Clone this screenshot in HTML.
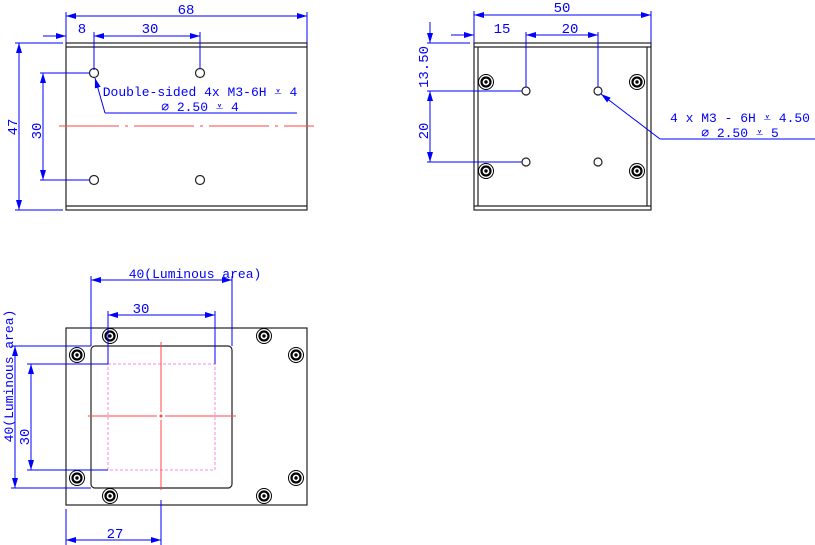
<!DOCTYPE html>
<html><head><meta charset="utf-8"><style>body{margin:0;background:#fff}svg{display:block}</style></head><body>
<svg width="815" height="545" viewBox="0 0 815 545" xmlns="http://www.w3.org/2000/svg" font-family="'Liberation Mono','DejaVu Sans Mono',monospace">
<defs>
<marker id="a" viewBox="0 0 10 6" refX="10" refY="3" markerWidth="10" markerHeight="6" orient="auto-start-reverse" markerUnits="userSpaceOnUse"><path d="M0,0L10,3L0,6z" fill="#00f"/></marker>
<g id="s"><circle r="7.5" fill="#fff" stroke="#000" stroke-width="1"/><circle r="4.5" fill="none" stroke="#000" stroke-width="2.2"/><circle r="1.7" fill="#000"/></g>
</defs>
<g fill="none" stroke="#222" stroke-width="1.2">
<rect x="66" y="43" width="241" height="167"/>
<line x1="66" y1="47" x2="307" y2="47"/><line x1="66" y1="206" x2="307" y2="206"/>
<circle cx="94" cy="73" r="4.5"/><circle cx="200" cy="73" r="4.5"/><circle cx="94" cy="180" r="4.5"/><circle cx="200" cy="180" r="4.5"/>
<rect x="474" y="43" width="177" height="167"/>
<line x1="474" y1="47" x2="651" y2="47"/><line x1="474" y1="206" x2="651" y2="206"/>
<line x1="478" y1="47" x2="478" y2="206"/><line x1="647" y1="47" x2="647" y2="206"/>
<circle cx="526" cy="91" r="4"/><circle cx="598" cy="91" r="4"/><circle cx="526" cy="162" r="4"/><circle cx="598" cy="162" r="4"/>
<rect x="66" y="328" width="241" height="177"/>
<rect x="91" y="346" width="141" height="142" rx="4"/>
</g>
<use href="#s" x="486" y="82"/><use href="#s" x="637" y="82"/><use href="#s" x="486" y="171"/><use href="#s" x="637" y="171"/>
<use href="#s" x="110" y="336"/><use href="#s" x="264" y="336"/><use href="#s" x="77" y="355"/><use href="#s" x="296" y="355"/>
<use href="#s" x="77" y="478"/><use href="#s" x="296" y="478"/><use href="#s" x="110" y="496"/><use href="#s" x="264" y="496"/>
<line x1="59" y1="126" x2="314" y2="126" stroke="#f44" stroke-width="1" stroke-dasharray="60,6,3,6"/>
<rect x="108" y="364" width="107" height="106" fill="none" stroke="#f8d" stroke-width="1" stroke-dasharray="3,2"/>
<g stroke="#f44" stroke-width="1"><line x1="161" y1="342" x2="161" y2="412"/><line x1="161" y1="420" x2="161" y2="490"/><line x1="88" y1="416" x2="157" y2="416"/><line x1="165" y1="416" x2="236" y2="416"/></g>
<circle cx="161" cy="416" r="1.5" fill="#f44"/>
<g stroke="#00f" stroke-width="1" fill="none">
<line x1="66" y1="12" x2="66" y2="43"/><line x1="307" y1="12" x2="307" y2="43"/>
<line x1="66" y1="16" x2="307" y2="16" marker-start="url(#a)" marker-end="url(#a)"/>
<line x1="94" y1="32" x2="94" y2="70"/><line x1="200" y1="32" x2="200" y2="69"/>
<line x1="43" y1="36" x2="66" y2="36" marker-end="url(#a)"/>
<line x1="94" y1="36" x2="200" y2="36" marker-start="url(#a)" marker-end="url(#a)"/>
<line x1="15" y1="43" x2="63" y2="43"/><line x1="15" y1="210" x2="63" y2="210"/>
<line x1="19" y1="43" x2="19" y2="210" marker-start="url(#a)" marker-end="url(#a)"/>
<line x1="40" y1="73" x2="90" y2="73"/><line x1="40" y1="180" x2="90" y2="180"/>
<line x1="43" y1="73" x2="43" y2="180" marker-start="url(#a)" marker-end="url(#a)"/>
<polyline points="105,113 297,113"/><line x1="105" y1="113" x2="95" y2="78" marker-end="url(#a)"/>
<line x1="474" y1="11" x2="474" y2="43"/><line x1="651" y1="11" x2="651" y2="43"/>
<line x1="474" y1="15" x2="651" y2="15" marker-start="url(#a)" marker-end="url(#a)"/>
<line x1="526" y1="32" x2="526" y2="87"/><line x1="598" y1="32" x2="598" y2="87"/>
<line x1="451" y1="35" x2="474" y2="35" marker-end="url(#a)"/>
<line x1="526" y1="35" x2="598" y2="35" marker-start="url(#a)" marker-end="url(#a)"/>
<line x1="427" y1="43" x2="470" y2="43"/><line x1="427" y1="91" x2="522" y2="91"/><line x1="427" y1="162" x2="522" y2="162"/>
<line x1="430" y1="22" x2="430" y2="43" marker-end="url(#a)"/>
<line x1="430" y1="91" x2="430" y2="162" marker-start="url(#a)" marker-end="url(#a)"/>
<line x1="660" y1="139" x2="815" y2="139"/><line x1="660" y1="139" x2="601" y2="94" marker-end="url(#a)"/>
<line x1="91" y1="276" x2="91" y2="346"/><line x1="232" y1="276" x2="232" y2="346"/>
<line x1="91" y1="280" x2="232" y2="280" marker-start="url(#a)" marker-end="url(#a)"/>
<line x1="108" y1="311" x2="108" y2="364"/><line x1="215" y1="311" x2="215" y2="364"/>
<line x1="108" y1="315" x2="215" y2="315" marker-start="url(#a)" marker-end="url(#a)"/>
<line x1="11" y1="346" x2="91" y2="346"/><line x1="11" y1="488" x2="91" y2="488"/>
<line x1="15" y1="346" x2="15" y2="488" marker-start="url(#a)" marker-end="url(#a)"/>
<line x1="27" y1="364" x2="108" y2="364"/><line x1="27" y1="470" x2="108" y2="470"/>
<line x1="31" y1="364" x2="31" y2="470" marker-start="url(#a)" marker-end="url(#a)"/>
<line x1="66" y1="509" x2="66" y2="545"/><line x1="161" y1="500" x2="161" y2="545"/>
<line x1="66" y1="540" x2="161" y2="540" marker-start="url(#a)" marker-end="url(#a)"/>
</g>
<g fill="#00f" font-size="14" text-anchor="middle">
<text x="186" y="14">68</text><text x="82" y="33">8</text><text x="150" y="33">30</text>
<text transform="translate(17,127) rotate(-90)">47</text><text transform="translate(41,131) rotate(-90)">30</text>
<text x="562" y="12">50</text><text x="502" y="33">15</text><text x="570" y="33">20</text>
<text transform="translate(428,67) rotate(-90)">13.50</text><text transform="translate(428,131) rotate(-90)">20</text>
<text x="141" y="313">30</text><text transform="translate(29,437) rotate(-90)">30</text>
<text x="115" y="538">27</text>
</g>
<g fill="#00f" font-size="13" text-anchor="middle">
<text x="200" y="96">Double-sided 4x M3-6H ⩡ 4</text><text x="200" y="111">∅ 2.50 ⩡ 4</text>
<text x="740" y="122">4 x  M3 - 6H ⩡ 4.50</text><text x="740" y="137">∅ 2.50 ⩡ 5</text>
<text x="195" y="278">40(Luminous area)</text>
<text transform="translate(13,376) rotate(-90)">40(Luminous area)</text>
</g>
</svg>
</body></html>
